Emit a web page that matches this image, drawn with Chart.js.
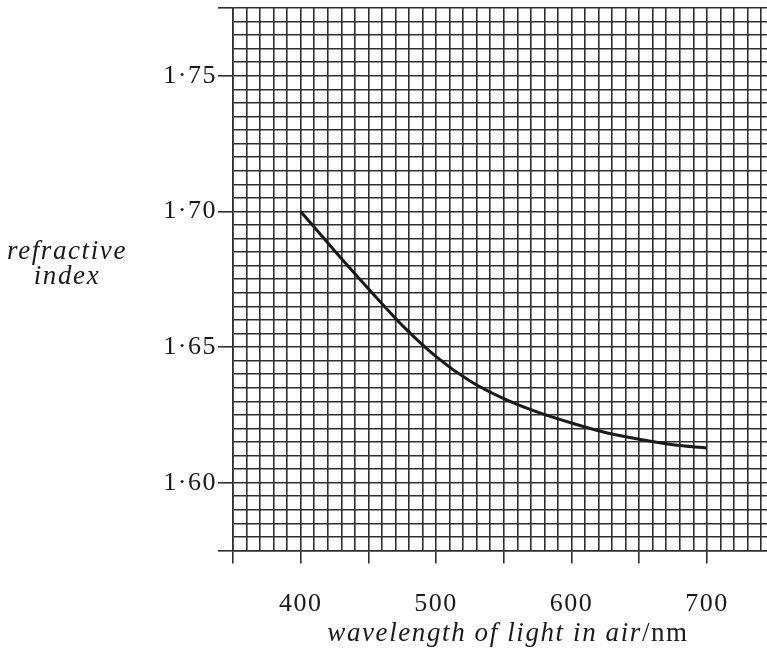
<!DOCTYPE html>
<html>
<head>
<meta charset="utf-8">
<script src="https://cdn.jsdelivr.net/npm/chart.js@4.4.0/dist/chart.umd.min.js"></script>
<style>
  html, body { margin: 0; padding: 0; background: #ffffff; }
  canvas { display: block; }
</style>
</head>
<body>
<canvas id="grafico_refracao" width="767" height="650"></canvas>
<script>
// valores
var wavelengths = [400, 425, 450, 475, 500, 525, 550, 575, 600, 625, 650, 675, 700];
var refractiveIndex = [1.700, 1.6855, 1.6715, 1.658, 1.6465, 1.6375, 1.631, 1.626, 1.622, 1.6185, 1.616, 1.614, 1.6128];

var xTickValues = [400, 500, 600, 700];
var xTickLabels = ['400', '500', '600', '700'];
var yTickValues = [1.60, 1.65, 1.70, 1.75];
var yTickLabels = ['1·60', '1·65', '1·70', '1·75'];

var yTitle = ['refractive', 'index'];
var xTitleItalic = 'wavelength of light in air';
var xTitleRoman = '/nm';

var serif = '"Liberation Serif", "Times New Roman", serif';
var corGrade = '#2e2e2e';

var pontos = [];
for (let i = 0; i < wavelengths.length; i++) {
    pontos.push({ x: wavelengths[i], y: refractiveIndex[i] });
}

function acharLabel(valor, valores, labels) {
    for (let i = 0; i < valores.length; i++) {
        if (Math.abs(valor - valores[i]) < 1e-6) return labels[i];
    }
    return '';
}

// espacamento entre letras (a fonte do original e mais larga)
const espacamento = {
    id: 'espacamento',
    beforeDraw(chart) {
        chart.ctx.letterSpacing = '1.5px';
    }
};

const titulos = {
    id: 'titulos',
    afterDraw(chart) {
        const ctx = chart.ctx;
        ctx.save();
        ctx.letterSpacing = '1.6px';
        ctx.fillStyle = '#1a1a1a';
        ctx.textBaseline = 'middle';
        ctx.textAlign = 'left';
        ctx.font = 'italic 27px ' + serif;
        var wa = ctx.measureText(yTitle[0]).width;
        var wb = ctx.measureText(yTitle[1]).width;
        ctx.fillText(yTitle[0], 67 - wa / 2, 252);
        ctx.fillText(yTitle[1], 67 - wb / 2, 277);

        // titulo do eixo x: parte em italico + "/nm" normal
        var w1 = ctx.measureText(xTitleItalic).width;
        ctx.font = '27px ' + serif;
        var w2 = ctx.measureText(xTitleRoman).width;
        var inicio = 508 - (w1 + w2) / 2;
        ctx.font = 'italic 27px ' + serif;
        ctx.fillText(xTitleItalic, inicio, 634);
        ctx.font = '27px ' + serif;
        ctx.fillText(xTitleRoman, inicio + w1, 634);
        ctx.restore();
    }
};

const config = {
    type: 'line',
    data: {
        datasets: [{
            data: pontos,
            borderColor: '#1a1a1a',
            borderWidth: 3,
            pointRadius: 0,
            fill: false,
            cubicInterpolationMode: 'monotone'
        }]
    },
    options: {
        responsive: false,
        animation: false,
        layout: { padding: { top: 8, right: 0, left: 0, bottom: 0 } },
        plugins: {
            legend: { display: false },
            tooltip: { enabled: false }
        },
        scales: {
            x: {
                type: 'linear',
                min: 350,
                max: 744.4,
                afterFit: function (scale) {
                    scale.height = 650 - 8 - 542.5;
                    scale.paddingLeft = 0;
                    scale.paddingRight = 0;
                },
                border: { display: true, color: corGrade, width: 1.6 },
                grid: {
                    color: corGrade,
                    lineWidth: 1.6,
                    drawTicks: true,
                    tickLength: 13,
                    tickColor: function (c) {
                        var v = c.tick ? c.tick.value : 0;
                        return (Math.round(v) % 50 === 0) ? corGrade : 'rgba(0,0,0,0)';
                    }
                },
                ticks: {
                    stepSize: 10,
                    includeBounds: false,
                    autoSkip: false,
                    maxRotation: 0,
                    padding: 25,
                    color: '#1a1a1a',
                    font: { family: serif, size: 26 },
                    callback: function (value) { return acharLabel(value, xTickValues, xTickLabels); }
                }
            },
            y: {
                type: 'linear',
                min: 1.575,
                max: 1.775,
                afterFit: function (scale) {
                    scale.width = 233;
                    scale.paddingTop = 0;
                    scale.paddingBottom = 0;
                },
                border: { display: true, color: corGrade, width: 1.6 },
                grid: {
                    color: corGrade,
                    lineWidth: 1.6,
                    drawTicks: true,
                    tickLength: 15,
                    tickColor: function (c) {
                        var v = c.tick ? Math.round(c.tick.value * 1000) : 0;
                        return (v % 50 === 0 || v === 1575 || v === 1775) ? corGrade : 'rgba(0,0,0,0)';
                    }
                },
                ticks: {
                    stepSize: 0.005,
                    autoSkip: false,
                    padding: 1,
                    color: '#1a1a1a',
                    font: { family: serif, size: 26 },
                    callback: function (value) { return acharLabel(value, yTickValues, yTickLabels); }
                }
            }
        }
    },
    plugins: [espacamento, titulos]
};

const grafico = new Chart(document.getElementById('grafico_refracao'), config);
</script>
</body>
</html>
